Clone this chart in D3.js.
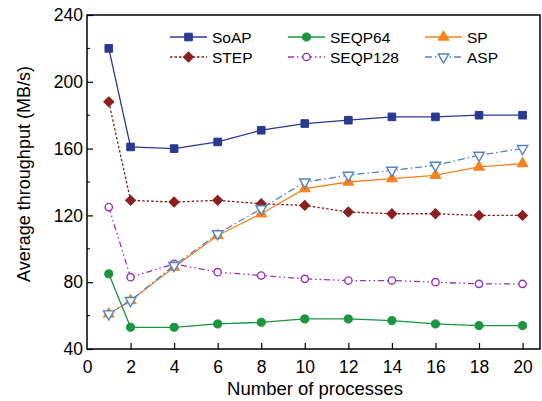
<!DOCTYPE html>
<html>
<head>
<meta charset="utf-8">
<script src="https://cdn.jsdelivr.net/npm/d3@7"></script>
<style>
  body { margin: 0; background: #fff; }
  text { font-family: "Liberation Sans", Arial, sans-serif; }
</style>
</head>
<body>
<script>
var procs = [1, 2, 4, 6, 8, 10, 12, 14, 16, 18, 20]
var soap = [220, 161, 160, 164, 171, 175, 177, 179, 179, 180, 180]
var step = [188, 129, 128, 129, 127, 126, 122, 121, 121, 120, 120]
var seqp64 = [85, 53, 53, 55, 56, 58, 58, 57, 55, 54, 54]
var seqp128 = [125, 83, 91, 86, 84, 82, 81, 81, 80, 79, 79]
var sp = [61, 69, 89, 108, 121, 136, 140, 142, 144, 149, 151]
var asp = [61, 69, 90, 109, 124, 140, 144, 147, 150, 156, 160]
var xTicks = [0, 2, 4, 6, 8, 10, 12, 14, 16, 18, 20]
var yTicks = [40, 80, 120, 160, 200, 240]

var series = [
  {name: "SoAP", vals: soap, color: "#2b3990", dash: null, shape: "square", fill: true},
  {name: "STEP", vals: step, color: "#8b1e1e", dash: "2.5,2", shape: "diamond", fill: true},
  {name: "SEQP64", vals: seqp64, color: "#1a9641", dash: null, shape: "circle", fill: true},
  {name: "SEQP128", vals: seqp128, color: "#9b30c0", dash: "6,3,1.5,3,1.5,3", shape: "circle", fill: false},
  {name: "SP", vals: sp, color: "#f5821f", dash: null, shape: "triangle", fill: true},
  {name: "ASP", vals: asp, color: "#5484c4", dash: "7,3,1.5,3", shape: "tridown", fill: false}
]

var width = 542, height = 401
var padL = 87, padR = 540, padT = 15, padB = 349

var svg = d3.select("body").append("svg")
  .attr("width", width)
  .attr("height", height)

var xScale = d3.scaleLinear().domain([0, 20.8]).range([padL, padR])
var yScale = d3.scaleLinear().domain([40, 240]).range([padB, padT])

// frame
svg.append("rect")
  .attr("x", padL).attr("y", padT)
  .attr("width", padR - padL).attr("height", padB - padT)
  .attr("fill", "none").attr("stroke", "#000").attr("stroke-width", 1.5)

// x axis, ticks pointing in
var xAxis = d3.axisBottom(xScale).tickValues(xTicks).tickSizeInner(-6).tickSizeOuter(0).tickPadding(12)
var gx = svg.append("g").attr("transform", "translate(0," + padB + ")").call(xAxis)
gx.select(".domain").remove()
gx.selectAll(".tick line").attr("stroke-width", 1.2)
gx.selectAll(".tick").filter(function(d) { return d == 0 }).select("line").remove()
gx.selectAll("text").attr("font-size", 17.5).attr("fill", "#000")
  .style("font-family", "Liberation Sans, Arial, sans-serif")

// y axis
var yAxis = d3.axisLeft(yScale).tickValues(yTicks).tickSizeInner(-6).tickSizeOuter(0).tickPadding(4)
var gy = svg.append("g").attr("transform", "translate(" + padL + ",0)").call(yAxis)
gy.select(".domain").remove()
gy.selectAll(".tick line").attr("stroke-width", 1.2)
gy.selectAll("text").attr("font-size", 17.5).attr("fill", "#000")
  .style("font-family", "Liberation Sans, Arial, sans-serif")

// minor y ticks
var minorY = [60, 100, 140, 180, 220]
svg.selectAll(".minor-y")
  .data(minorY)
  .enter()
  .append("line")
  .attr("x1", padL).attr("x2", padL + 3)
  .attr("y1", function(d) { return yScale(d) })
  .attr("y2", function(d) { return yScale(d) })
  .attr("stroke", "#000").attr("stroke-width", 1)

// axis titles
svg.append("text")
  .attr("x", 315).attr("y", 395)
  .attr("text-anchor", "middle").attr("font-size", 18.5)
  .text("Number of processes")

svg.append("text")
  .attr("transform", "translate(30,174) rotate(-90)")
  .attr("text-anchor", "middle").attr("font-size", 18)
  .text("Average throughput (MB/s)")

var symbolFor = function(s) {
  if (s.shape == "square") return d3.symbol().type(d3.symbolSquare).size(58)
  if (s.shape == "diamond") return d3.symbol().type(d3.symbolSquare).size(50)
  if (s.shape == "circle") return d3.symbol().type(d3.symbolCircle).size(s.fill ? 52 : 42)
  if (s.shape == "triangle") return d3.symbol().type(d3.symbolTriangle).size(52)
  return d3.symbol().type(d3.symbolTriangle).size(48)
}

var rotFor = function(s) {
  if (s.shape == "tridown") return " rotate(180)"
  if (s.shape == "diamond") return " rotate(45)"
  return ""
}

var line = d3.line()
  .x(function(d) { return xScale(d[0]) })
  .y(function(d) { return yScale(d[1]) })

series.forEach(function(s) {
  var pts = procs.map(function(p, i) { return [p, s.vals[i]] })
  svg.append("path")
    .attr("d", line(pts))
    .attr("fill", "none")
    .attr("stroke", s.color)
    .attr("stroke-width", 1.3)
    .attr("stroke-dasharray", s.dash)
  var sym = symbolFor(s)
  svg.selectAll(null)
    .data(pts)
    .enter()
    .append("path")
    .attr("d", sym)
    .attr("transform", function(d) {
      return "translate(" + xScale(d[0]) + "," + yScale(d[1]) + ")" + rotFor(s)
    })
    .attr("fill", s.fill ? s.color : "#fff")
    .attr("stroke", s.color)
    .attr("stroke-width", s.fill ? 1 : 1.4)
})

// legend, 3 columns x 2 rows
var legX = [170, 288, 425]
var legY = [37, 57]
var order = [0, 2, 4, 1, 3, 5]
order.forEach(function(idx, k) {
  var s = series[idx]
  var cx = legX[k % 3]
  var cy = legY[Math.floor(k / 3)]
  svg.append("line")
    .attr("x1", cx).attr("x2", cx + 37)
    .attr("y1", cy).attr("y2", cy)
    .attr("stroke", s.color).attr("stroke-width", 1.3)
    .attr("stroke-dasharray", s.dash)
  svg.append("path")
    .attr("d", symbolFor(s))
    .attr("transform", "translate(" + (cx + 18.5) + "," + cy + ")" + rotFor(s))
    .attr("fill", s.fill ? s.color : "#fff")
    .attr("stroke", s.color)
    .attr("stroke-width", s.fill ? 1 : 1.4)
  svg.append("text")
    .attr("x", cx + 42).attr("y", cy + 5.5)
    .attr("font-size", 15.5)
    .text(s.name)
})
</script>
</body>
</html>
